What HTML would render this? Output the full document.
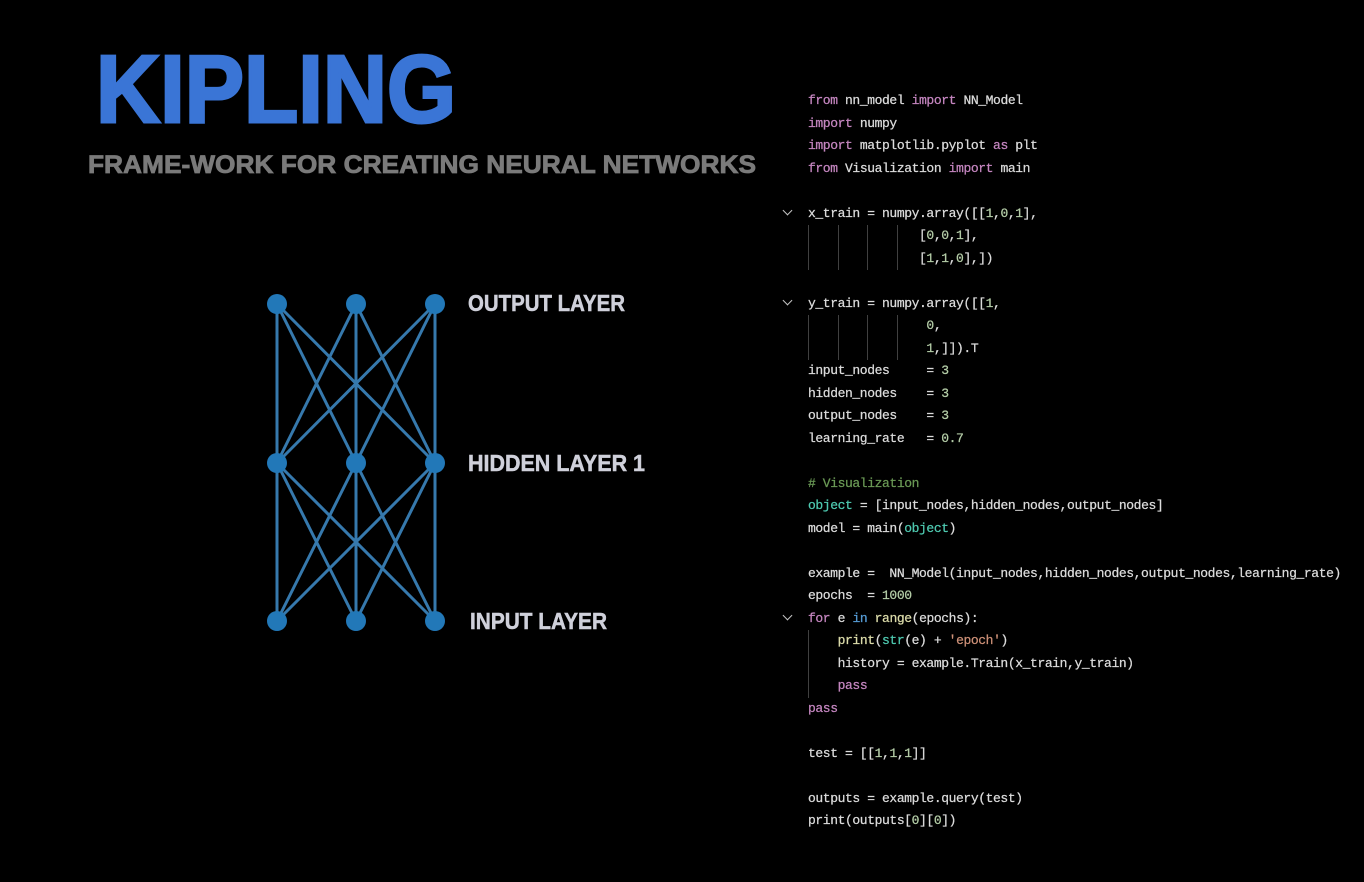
<!DOCTYPE html>
<html><head><meta charset="utf-8"><style>
html,body{margin:0;padding:0;background:#000;width:1364px;height:882px;overflow:hidden;position:relative}
.c{position:absolute;left:808px;font-family:"Liberation Mono",monospace;font-size:13px;letter-spacing:-0.4px;color:#dcdcdc;white-space:pre;line-height:16px;-webkit-text-stroke:0.25px currentColor}
.k{color:#c586c0}.n{color:#b5cea8}.t{color:#4ec9b0}.g{color:#6a9955}.b{color:#569cd6}.y{color:#dcdcaa}.s{color:#ce9178}
.gd{position:absolute;width:1px;background:#404040}
.ch{position:absolute;left:784px;width:6px;height:6px;border-right:1.5px solid #c5c5c5;border-bottom:1.5px solid #c5c5c5;transform:rotate(45deg)}
</style></head><body>
<svg width="1364" height="882" style="position:absolute;left:0;top:0">
<text x="96" y="122" font-family="Liberation Sans" font-weight="bold" font-size="96" fill="#3a75d6" stroke="#3a75d6" stroke-width="3" textLength="360" lengthAdjust="spacingAndGlyphs">KIPLING</text>
<text x="88" y="173" font-family="Liberation Sans" font-weight="bold" font-size="25" fill="#7a7a7a" stroke="#7a7a7a" stroke-width="0.8" textLength="668" lengthAdjust="spacingAndGlyphs">FRAME-WORK FOR CREATING NEURAL NETWORKS</text>
<g stroke="#3679ad" stroke-width="3">
<line x1="277" y1="304" x2="277" y2="463"/><line x1="277" y1="304" x2="356" y2="463"/><line x1="277" y1="304" x2="435" y2="463"/>
<line x1="356" y1="304" x2="277" y2="463"/><line x1="356" y1="304" x2="356" y2="463"/><line x1="356" y1="304" x2="435" y2="463"/>
<line x1="435" y1="304" x2="277" y2="463"/><line x1="435" y1="304" x2="356" y2="463"/><line x1="435" y1="304" x2="435" y2="463"/>
<line x1="277" y1="463" x2="277" y2="621"/><line x1="277" y1="463" x2="356" y2="621"/><line x1="277" y1="463" x2="435" y2="621"/>
<line x1="356" y1="463" x2="277" y2="621"/><line x1="356" y1="463" x2="356" y2="621"/><line x1="356" y1="463" x2="435" y2="621"/>
<line x1="435" y1="463" x2="277" y2="621"/><line x1="435" y1="463" x2="356" y2="621"/><line x1="435" y1="463" x2="435" y2="621"/>
</g>
<g fill="#2278b8">
<circle cx="277" cy="304" r="10"/><circle cx="356" cy="304" r="10"/><circle cx="435" cy="304" r="10"/>
<circle cx="277" cy="463" r="10"/><circle cx="356" cy="463" r="10"/><circle cx="435" cy="463" r="10"/>
<circle cx="277" cy="621" r="10"/><circle cx="356" cy="621" r="10"/><circle cx="435" cy="621" r="10"/>
</g>
<g font-family="Liberation Sans" font-weight="bold" font-size="23" fill="#cfd0da" stroke="#cfd0da" stroke-width="0.5">
<text x="468" y="311" textLength="157" lengthAdjust="spacingAndGlyphs">OUTPUT LAYER</text>
<text x="468" y="471" textLength="177" lengthAdjust="spacingAndGlyphs">HIDDEN LAYER 1</text>
<text x="470" y="629" textLength="137" lengthAdjust="spacingAndGlyphs">INPUT LAYER</text>
</g>
</svg>
<div class="ch" style="top:207px"></div><div class="ch" style="top:297px"></div><div class="ch" style="top:612px"></div>
<div class="gd" style="left:808px;top:225px;height:45px"></div><div class="gd" style="left:838px;top:225px;height:45px"></div><div class="gd" style="left:867px;top:225px;height:45px"></div><div class="gd" style="left:897px;top:225px;height:45px"></div>
<div class="gd" style="left:808px;top:315px;height:45px"></div><div class="gd" style="left:838px;top:315px;height:45px"></div><div class="gd" style="left:867px;top:315px;height:45px"></div><div class="gd" style="left:897px;top:315px;height:45px"></div>
<div class="gd" style="left:808px;top:630px;height:68px"></div>
<div class="c" style="top:93px"><span class="k">from</span> nn_model <span class="k">import</span> NN_Model</div>
<div class="c" style="top:116px"><span class="k">import</span> numpy</div>
<div class="c" style="top:138px"><span class="k">import</span> matplotlib.pyplot <span class="k">as</span> plt</div>
<div class="c" style="top:161px"><span class="k">from</span> Visualization <span class="k">import</span> main</div>
<div class="c" style="top:206px">x_train = numpy.array([[<span class="n">1</span>,<span class="n">0</span>,<span class="n">1</span>],</div>
<div class="c" style="top:228px">               [<span class="n">0</span>,<span class="n">0</span>,<span class="n">1</span>],</div>
<div class="c" style="top:251px">               [<span class="n">1</span>,<span class="n">1</span>,<span class="n">0</span>],])</div>
<div class="c" style="top:296px">y_train = numpy.array([[<span class="n">1</span>,</div>
<div class="c" style="top:318px">                <span class="n">0</span>,</div>
<div class="c" style="top:341px">                <span class="n">1</span>,]]).T</div>
<div class="c" style="top:363px">input_nodes     = <span class="n">3</span></div>
<div class="c" style="top:386px">hidden_nodes    = <span class="n">3</span></div>
<div class="c" style="top:408px">output_nodes    = <span class="n">3</span></div>
<div class="c" style="top:431px">learning_rate   = <span class="n">0.7</span></div>
<div class="c" style="top:476px"><span class="g"># Visualization</span></div>
<div class="c" style="top:498px"><span class="t">object</span> = [input_nodes,hidden_nodes,output_nodes]</div>
<div class="c" style="top:521px">model = main(<span class="t">object</span>)</div>
<div class="c" style="top:566px">example =  NN_Model(input_nodes,hidden_nodes,output_nodes,learning_rate)</div>
<div class="c" style="top:588px">epochs  = <span class="n">1000</span></div>
<div class="c" style="top:611px"><span class="k">for</span> e <span class="b">in</span> <span class="y">range</span>(epochs):</div>
<div class="c" style="top:633px">    <span class="y">print</span>(<span class="t">str</span>(e) + <span class="s">'epoch'</span>)</div>
<div class="c" style="top:656px">    history = example.Train(x_train,y_train)</div>
<div class="c" style="top:678px">    <span class="k">pass</span></div>
<div class="c" style="top:701px"><span class="k">pass</span></div>
<div class="c" style="top:746px">test = [[<span class="n">1</span>,<span class="n">1</span>,<span class="n">1</span>]]</div>
<div class="c" style="top:791px">outputs = example.query(test)</div>
<div class="c" style="top:813px">print(outputs[<span class="n">0</span>][<span class="n">0</span>])</div>
</body></html>
